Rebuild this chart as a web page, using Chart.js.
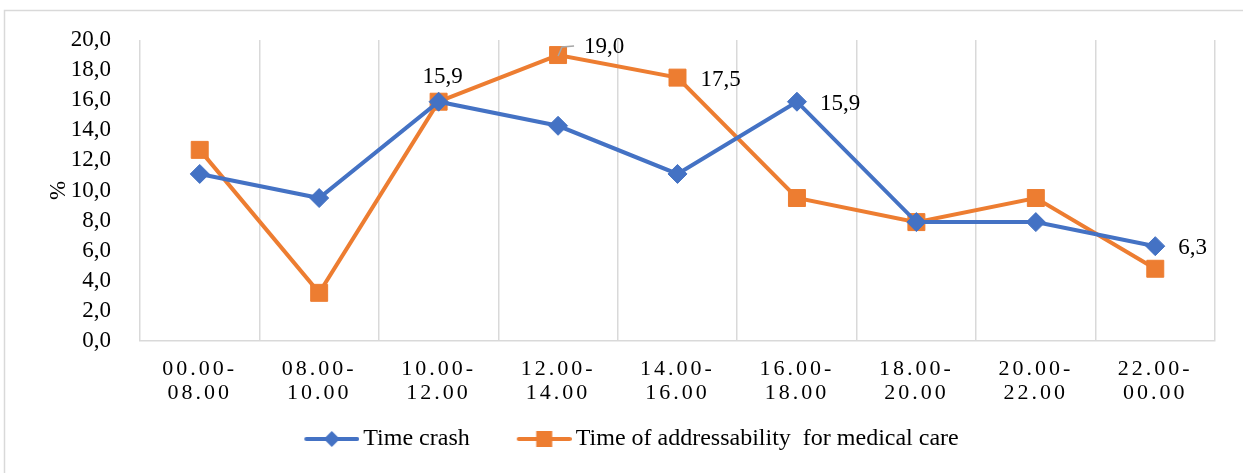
<!DOCTYPE html>
<html>
<head>
<meta charset="utf-8">
<script src="https://cdn.jsdelivr.net/npm/chart.js@4.4.0/dist/chart.umd.min.js"></script>
<style>
  html, body { margin: 0; padding: 0; background: #fff; }
  #wrap { position: relative; width: 1243px; height: 473px; overflow: hidden; }
</style>
</head>
<body>
<div id="wrap"><canvas id="myChart"></canvas></div>
<script>
// data
const timeRanges = ['00.00-08.00', '08.00-10.00', '10.00-12.00', '12.00-14.00', '14.00-16.00',
                    '16.00-18.00', '18.00-20.00', '20.00-22.00', '22.00-00.00'];
const crashValues = [11.1, 9.5, 15.9, 14.3, 11.1, 15.9, 7.9, 7.9, 6.3];
const careValues = [12.7, 3.2, 15.9, 19.0, 17.5, 9.5, 7.9, 9.5, 4.8];
const seriesNames = ['Time crash', 'Time of addressability  for medical care'];
const yAxisTitle = '%';

const FONT = '"Liberation Serif", "Times New Roman", serif';
const BLUE = '#4472C4';
const ORANGE = '#ED7D31';
const GRID = '#D9D9D9';

// which points get a value label
const labelSpots = [
    { ds: 1, i: 2, pos: 'top' },
    { ds: 1, i: 3, pos: 'leader' },
    { ds: 1, i: 4, pos: 'right' },
    { ds: 0, i: 5, pos: 'right' },
    { ds: 0, i: 8, pos: 'right' }
];

// legend icons: line with marker, like the office legend
const legendFont = 24;
const lineLen = 55;
const textGap = 4;
const gapShift = legendFont / 2 - textGap;
const boxW = 92 - gapShift;

function makeIcon(color, shape) {
    const c = document.createElement('canvas');
    c.width = boxW + 2 * gapShift;
    c.height = 22;
    const g = c.getContext('2d');
    const x1 = c.width - lineLen;
    const x2 = c.width;
    const cx = (x1 + x2) / 2;
    g.strokeStyle = color;
    g.lineWidth = 4;
    g.lineCap = 'round';
    g.beginPath();
    g.moveTo(x1 + 2, 11);
    g.lineTo(x2 - 2, 11);
    g.stroke();
    g.fillStyle = color;
    g.beginPath();
    if (shape === 'diamond') {
        g.moveTo(cx, 3); g.lineTo(cx + 8, 11); g.lineTo(cx, 19); g.lineTo(cx - 8, 11);
    } else {
        g.rect(cx - 8, 3, 16, 16);
    }
    g.closePath();
    g.fill();
    return c;
}
const legendIcons = [makeIcon(BLUE, 'diamond'), makeIcon(ORANGE, 'square')];

function fmt(v) {
    return v.toFixed(1).replace('.', ',');
}

// outer frame
const framePlugin = {
    id: 'frame',
    beforeDraw(chart) {
        const ctx = chart.ctx;
        ctx.save();
        ctx.fillStyle = '#fff';
        ctx.fillRect(0, 0, chart.width, chart.height);
        ctx.strokeStyle = GRID;
        ctx.lineWidth = 1.5;
        ctx.strokeRect(4.5, 10.5, chart.width + 20, chart.height + 20);
        ctx.restore();
    }
};

// value labels
const pointLabels = {
    id: 'pointLabels',
    afterDatasetsDraw(chart) {
        const ctx = chart.ctx;
        ctx.save();
        ctx.font = '23px ' + FONT;
        ctx.fillStyle = '#000';
        ctx.textBaseline = 'middle';
        labelSpots.forEach(s => {
            const pt = chart.getDatasetMeta(s.ds).data[s.i];
            const txt = fmt(chart.data.datasets[s.ds].data[s.i]);
            if (s.pos === 'top') {
                ctx.textAlign = 'center';
                ctx.fillText(txt, pt.x + 4, pt.y - 25);
            } else if (s.pos === 'leader') {
                ctx.strokeStyle = '#A6A6A6';
                ctx.lineWidth = 1.5;
                ctx.beginPath();
                ctx.moveTo(pt.x, pt.y + 1);
                ctx.lineTo(pt.x + 4, pt.y - 8);
                ctx.lineTo(pt.x + 16, pt.y - 9);
                ctx.stroke();
                ctx.textAlign = 'left';
                ctx.fillText(txt, pt.x + 26, pt.y - 8);
            } else {
                ctx.textAlign = 'left';
                ctx.fillText(txt, pt.x + 23, pt.y + 2);
            }
        });
        ctx.restore();
    }
};

const data = {
    labels: timeRanges,
    datasets: [{
        label: seriesNames[0],
        data: crashValues,
        borderColor: BLUE,
        backgroundColor: BLUE,
        borderWidth: 4,
        pointStyle: 'rectRot',
        pointRadius: 9.5,
        pointBorderWidth: 1,
        tension: 0
    }, {
        label: seriesNames[1],
        data: careValues,
        borderColor: ORANGE,
        backgroundColor: ORANGE,
        borderWidth: 4,
        pointStyle: 'rect',
        pointRadius: 12,
        pointBorderWidth: 1,
        tension: 0
    }]
};

const scales = {
    x: {
        offset: true,
        grid: { offset: true, color: GRID, lineWidth: 1.5, drawTicks: false },
        border: { display: true, color: GRID, width: 1.5 },
        ticks: {
            color: '#000',
            padding: 16,
            maxRotation: 0,
            autoSkip: false,
            font: { family: FONT, size: 22, lineHeight: 1.1 },
            callback: function (value, index) {
                const parts = timeRanges[index].split('-');
                return [parts[0] + '-', parts[1]];
            }
        },
        afterFit(scale) { scale.height = 76; }
    },
    y: {
        min: 0,
        max: 20,
        grid: { display: false },
        border: { display: false },
        ticks: {
            stepSize: 2,
            autoSkip: false,
            color: '#000',
            padding: 21,
            font: { family: FONT, size: 23, lineHeight: 1 },
            callback: v => fmt(v)
        },
        title: {
            display: true,
            text: yAxisTitle,
            color: '#000',
            font: { family: FONT, size: 23 },
            padding: { top: 34, bottom: 0 }
        },
        afterFit(scale) { scale.width = 129; }
    }
};

const config = {
    type: 'line',
    data,
    options: {
        responsive: true,
        maintainAspectRatio: false,
        animation: false,
        layout: { padding: { left: 11, right: 28, top: 40, bottom: 12 } },
        scales: scales,
        plugins: {
            tooltip: { enabled: false },
            legend: {
                position: 'bottom',
                labels: {
                    usePointStyle: true,
                    pointStyleWidth: boxW,
                    padding: 10,
                    color: '#000',
                    font: { family: FONT, size: legendFont },
                    generateLabels(chart) {
                        return chart.data.datasets.map((ds, i) => ({
                            text: ds.label,
                            pointStyle: legendIcons[i],
                            fillStyle: ds.borderColor,
                            strokeStyle: ds.borderColor,
                            lineWidth: 0,
                            fontColor: '#000',
                            hidden: false,
                            datasetIndex: i
                        }));
                    }
                }
            }
        }
    },
    plugins: [framePlugin, pointLabels]
};

const myChart = new Chart(document.getElementById('myChart'), config);

// spread the letters of the time labels a bit
const xScale = myChart.scales.x;
const origDrawLabels = xScale.drawLabels;
xScale.drawLabels = function (area) {
    const ctx = this.ctx;
    ctx.save();
    ctx.letterSpacing = '3px';
    origDrawLabels.call(this, area);
    ctx.restore();
};
myChart.draw();
</script>
</body>
</html>
